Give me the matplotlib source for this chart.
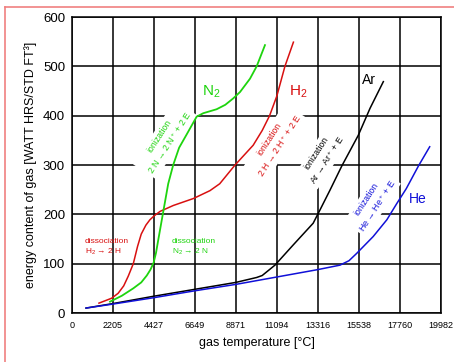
import matplotlib.pyplot as plt
from matplotlib.lines import Line2D

plt.rcParams['font.family'] = ['Liberation Sans', 'DejaVu Sans']
plt.rcParams['mathtext.default'] = 'regular'

# gas temperature [°C] / energy content
ar_x = [760, 2200, 4427, 6649, 8871, 10000, 10300, 10990, 11980, 13060, 13430, 13970, 14610, 15500, 16140, 16860]
ar_y = [10, 19, 34, 48, 62, 72, 76, 97, 138, 182, 209, 249, 298, 360, 415, 469]

he_x = [760, 2200, 4427, 6649, 8871, 11094, 13316, 14510, 15000, 15420, 16310, 17050, 17590, 18100, 18760, 19370]
he_y = [10, 18, 31, 45, 58, 73, 88, 97, 106, 121, 155, 189, 222, 252, 298, 337]

h2_x = [1460, 2150, 2500, 2800, 3050, 3320, 3550, 3750, 4000, 4220, 4450, 4770, 5490, 6570, 7470, 8000,
        8830, 9810, 10300, 10700, 11094, 11530, 11990]
h2_y = [20, 30, 40, 55, 75, 100, 135, 160, 178, 189, 197, 206, 218, 232, 248, 262,
        300, 340, 370, 400, 440, 500, 549]

n2_x = [2060, 2700, 3320, 3750, 4050, 4250, 4420, 4550, 4670, 4940, 5210, 5480, 5800, 6210, 6750, 7110,
        7830, 8300, 8730, 9100, 9640, 10000, 10450]
n2_y = [23, 35, 50, 62, 76, 88, 102, 122, 148, 205, 262, 300, 335, 362, 398, 405,
        413, 422, 435, 448, 475, 500, 543]

xticks = [0, 2205, 4427, 6649, 8871, 11094, 13316, 15538, 17760, 19982]
yticks = [0, 100, 200, 300, 400, 500, 600]

GREEN = '#1ed40e'
RED = '#d81010'
BLUE = '#1010d8'

fig = plt.figure(figsize=(4.54, 3.62), dpi=100)
# pink page frame (top and left edges visible)
fig.add_artist(Line2D([5 / 454, 5 / 454], [0, 1 - 7 / 362], transform=fig.transFigure, color='#f08080', lw=1.2))
fig.add_artist(Line2D([5 / 454, 1], [1 - 7 / 362, 1 - 7 / 362], transform=fig.transFigure, color='#f08080', lw=1.2))

ax = fig.add_axes([72 / 454, 1 - 313 / 362, 369 / 454, 296 / 362])

ax.plot(ar_x, ar_y, color='black', lw=1.1, zorder=5)
ax.plot(he_x, he_y, color=BLUE, lw=1.1, zorder=5)
ax.plot(h2_x, h2_y, color=RED, lw=1.1, zorder=5)
ax.plot(n2_x, n2_y, color=GREEN, lw=1.3, zorder=5)

ax.set_xlim(0, 19982)
ax.set_ylim(0, 600)
ax.set_xticks(xticks)
ax.set_yticks(yticks)
ax.tick_params(axis='x', length=0, pad=6, labelsize=6.5)
ax.tick_params(axis='y', length=0, pad=5, labelsize=9.5)
ax.grid(True, color='black', lw=1.1)
ax.set_axisbelow(True)
for s in ax.spines.values():
    s.set_linewidth(1.1)

ax.set_xlabel('gas temperature [°C]', fontsize=9, labelpad=5)
ax.set_ylabel('energy content of gas [WATT HRS/STD FT³]', fontsize=9, labelpad=4)

ax.text(7565, 448, r'N$_2$', color=GREEN, fontsize=11, ha='center', va='center', zorder=6)
ax.text(12240, 448, r'H$_2$', color=RED, fontsize=11, ha='center', va='center', zorder=6)
ax.text(16080, 472, 'Ar', color='black', fontsize=10, ha='center', va='center', zorder=6)
ax.text(18740, 231, 'He', color=BLUE, fontsize=10, ha='center', va='center', zorder=6)

small = dict(fontsize=6, zorder=4, linespacing=1.3)
ax.text(704, 133, 'dissociation\n' + r'H$_2$ → 2 H', color=RED, ha='left', va='center', **small)
ax.text(5415, 133, 'dissociation\n' + r'N$_2$ → 2 N', color=GREEN, ha='left', va='center', **small)

box = dict(facecolor='white', edgecolor='none', pad=1.5)
rot = dict(rotation=57, ha='center', va='center', rotation_mode='anchor', bbox=box, fontsize=6.3, zorder=4,
           linespacing=1.25)
ax.text(5050, 351, 'ionization\n' + r'2 N → 2 N$^+$ + 2 E', color=GREEN, **rot)
ax.text(11000, 345, 'ionization\n' + r'2 H → 2 H$^+$ + 2 E', color=RED, **rot)
ax.text(13550, 316, 'ionization\n' + r'Ar → Ar$^+$ + E', color='black', **rot)
ax.text(16250, 223, 'ionization\n' + r'He → He$^+$ + E', color=BLUE, **rot)

fig.savefig('out.png', dpi=100)
